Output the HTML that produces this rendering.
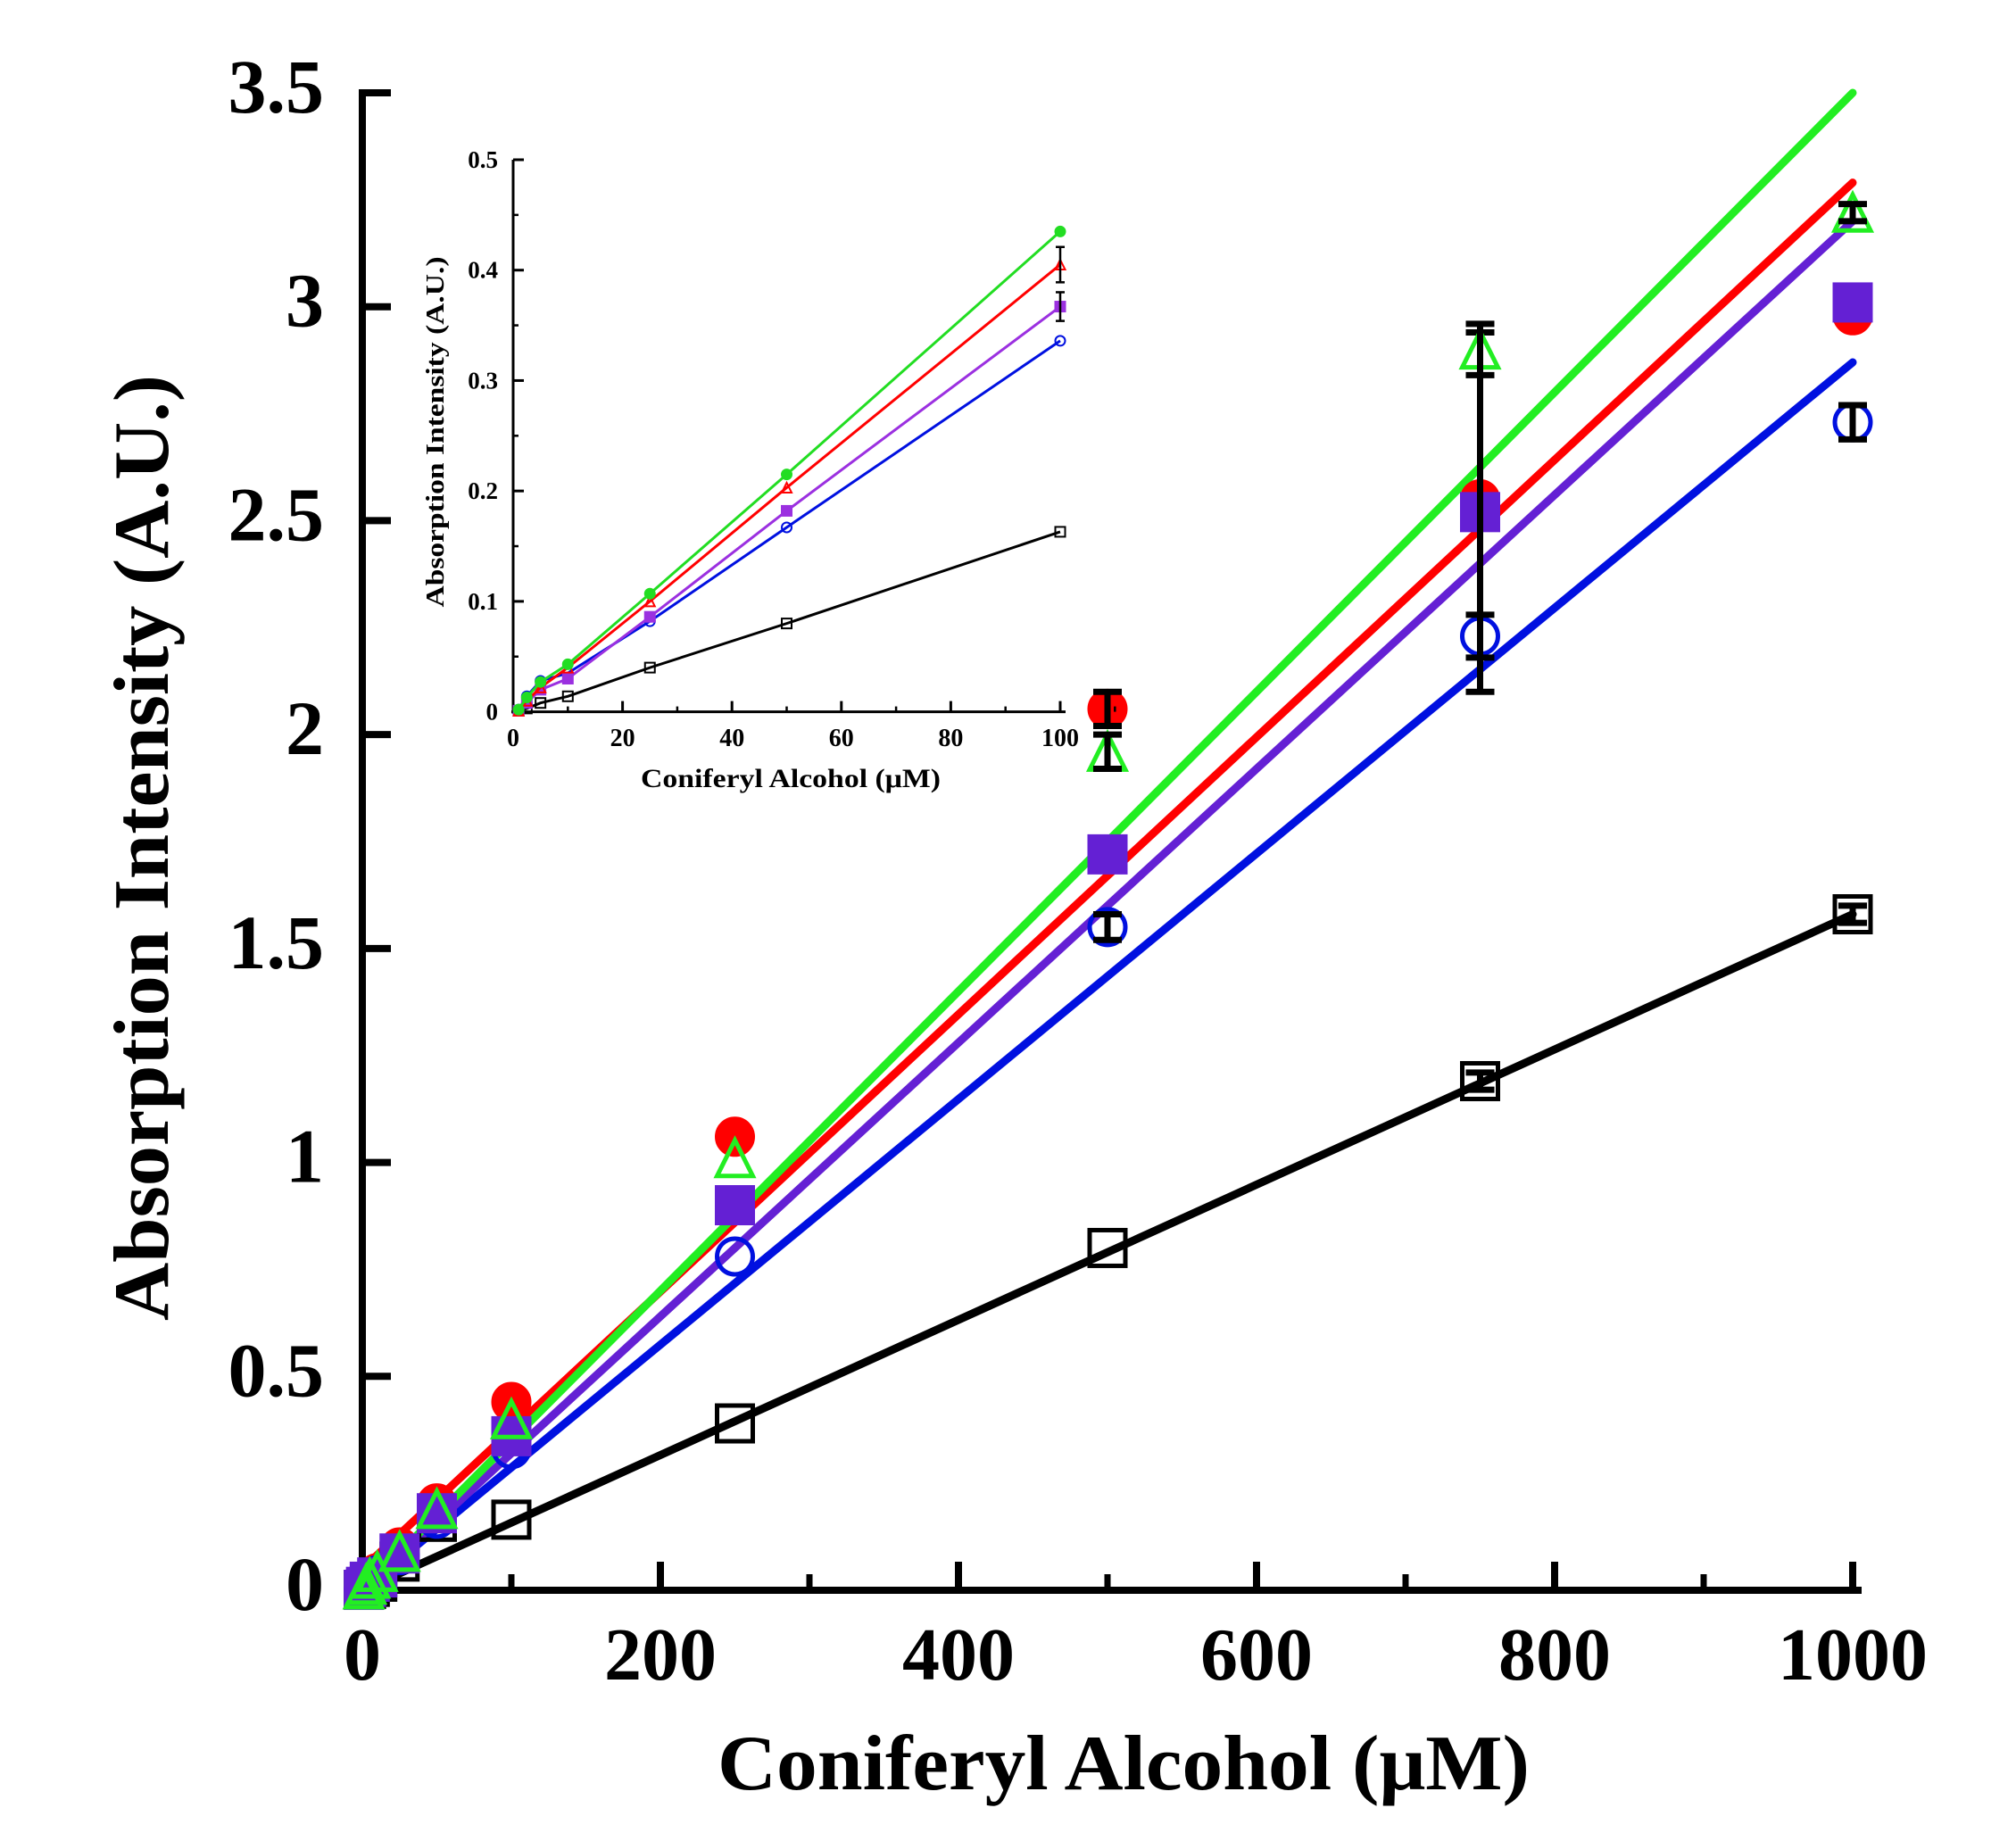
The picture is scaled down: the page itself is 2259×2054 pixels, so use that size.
<!DOCTYPE html>
<html><head><meta charset="utf-8"><style>
html,body{margin:0;padding:0;background:#fff;}
svg{display:block;}
text{font-family:"Liberation Serif",serif;font-weight:bold;fill:#000;}
</style></head><body>
<svg id="chart" width="2259" height="2054" viewBox="0 0 2259 2054" xmlns="http://www.w3.org/2000/svg"></svg>
<script>
// ---- main chart data ----
const concMain = [1, 2.5, 5, 10, 25, 50, 100, 250, 500, 750, 1000];
const redMain    = [0.002, 0.01, 0.022, 0.04, 0.10, 0.203, 0.44, 1.06, 2.06, 2.55, 2.98];
const greenMain  = [0.002, 0.013, 0.027, 0.043, 0.09, 0.19, 0.40, 1.01, 1.96, 2.90, 3.22];
const purpleMain = [0.001, 0.008, 0.02, 0.03, 0.086, 0.18, 0.36, 0.90, 1.72, 2.52, 3.01];
const blueMain   = [0.002, 0.014, 0.028, 0.035, 0.082, 0.167, 0.33, 0.78, 1.55, 2.23, 2.73];
const blackMain  = [0.001, 0.003, 0.008, 0.02, 0.067, 0.16, 0.165, 0.39, 0.80, 1.19, 1.58];
const greenErr   = [0, 0, 0, 0, 0, 0, 0, 0, 0.04, 0.06, 0.02];
const redErr     = [0, 0, 0, 0, 0, 0, 0, 0, 0.04, 0, 0];
const purpleErr  = [0, 0, 0, 0, 0, 0, 0, 0, 0, 0.42, 0];
const blueErr    = [0, 0, 0, 0, 0, 0, 0, 0, 0.03, 0.05, 0.04];
const blackErr   = [0, 0, 0, 0, 0, 0, 0, 0, 0, 0.02, 0.02];
const fitEnd     = [3.29, 3.50, 3.20, 2.87, 1.58]; // red, green, purple, blue, black at 1000
const fitStart   = [0.05, 0.0, 0.0, 0.0, 0.0];
const xTicksMain = [0, 200, 400, 600, 800, 1000];
const xMinorMain = [100, 300, 500, 700, 900];
const yTicksMain = [0, 0.5, 1, 1.5, 2, 2.5, 3, 3.5];
const yTickLabelsMain = ["0", "0.5", "1", "1.5", "2", "2.5", "3", "3.5"];
// ---- inset data ----
const concInset = [1, 2.5, 5, 10, 25, 50, 100];
const greenInset  = [0.002, 0.013, 0.027, 0.043, 0.107, 0.215, 0.435];
const redInset    = [0.001, 0.01, 0.022, 0.04, 0.10, 0.203, 0.405];
const purpleInset = [0.001, 0.008, 0.02, 0.03, 0.086, 0.182, 0.367];
const blueInset   = [0.002, 0.014, 0.028, 0.035, 0.082, 0.167, 0.336];
const blackInset  = [0.001, 0.003, 0.008, 0.014, 0.04, 0.08, 0.163];
const redInsetErr    = [0, 0, 0, 0, 0, 0, 0.016];
const purpleInsetErr = [0, 0, 0, 0, 0, 0, 0.013];
const xTicksInset = [0, 20, 40, 60, 80, 100];
const yTicksInset = [0, 0.1, 0.2, 0.3, 0.4, 0.5];
const yTickLabelsInset = ["0", "0.1", "0.2", "0.3", "0.4", "0.5"];

const NS = "http://www.w3.org/2000/svg";
const svg = document.getElementById('chart');
function el(tag, attrs, parent) {
  const e = document.createElementNS(NS, tag);
  for (const k in attrs) e.setAttribute(k, attrs[k]);
  (parent || svg).appendChild(e);
  return e;
}
const mx = v => 406 + v * (2076 - 406) / 1000;
const my = v => 1782 - v * (1782 - 104) / 3.5;
const ix = v => 575 + v * (1188 - 575) / 100;
const iy = v => 797.6 - v * (797.6 - 179) / 0.5;

const gMainAxes = el('g', {});


const yAxis = el('line', {x1: mx(0), y1: my(3.5) - 4, x2: mx(0), y2: my(0) + 4, stroke: '#000', 'stroke-width': 8}, gMainAxes);


const xAxis = el('line', {x1: mx(0) - 4, y1: my(0), x2: mx(1000) + 10, y2: my(0), stroke: '#000', 'stroke-width': 8}, gMainAxes);


xTicksMain.forEach((t, i) => {
  el('line', {x1: mx(t), y1: my(0), x2: mx(t), y2: my(0) - 32, stroke: '#000', 'stroke-width': 8}, gMainAxes);
  const tx = el('text', {x: mx(t), y: 1882, 'font-size': 84, 'text-anchor': 'middle'}, gMainAxes);
  tx.textContent = String(t);
  
  
});
xMinorMain.forEach(t => {
  el('line', {x1: mx(t), y1: my(0), x2: mx(t), y2: my(0) - 18, stroke: '#000', 'stroke-width': 7}, gMainAxes);
});
yTicksMain.forEach((t, i) => {
  el('line', {x1: mx(0), y1: my(t), x2: mx(0) + 32, y2: my(t), stroke: '#000', 'stroke-width': 8}, gMainAxes);
  const ty = el('text', {x: 363, y: my(t) + 22, 'font-size': 86, 'text-anchor': 'end'}, gMainAxes);
  ty.textContent = yTickLabelsMain[i];
  
  
});
const yTitle = el('text', {x: 0, y: 0, 'font-size': 88, 'text-anchor': 'middle', transform: 'translate(188,950) rotate(-90)', textLength: 1060, lengthAdjust: 'spacingAndGlyphs'});
yTitle.textContent = 'Absorption Intensity (A.U.)';


const xTitle = el('text', {x: 1259, y: 2005, 'font-size': 88, 'text-anchor': 'middle', textLength: 910, lengthAdjust: 'spacingAndGlyphs'});
xTitle.textContent = 'Coniferyl Alcohol (\u03bcM)';



const mainColors = ['#ff0000', '#22ee22', '#6420d4', '#0010e0', '#000000'];
const fitNames = ['red-fit-line', 'green-fit-line', 'purple-fit-line', 'blue-fit-line', 'black-fit-line'];
const fitOrder = [4, 3, 2, 0, 1];
fitOrder.forEach(i => {
  const ln = el('line', {x1: mx(0), y1: my(fitStart[i]), x2: mx(1000), y2: my(fitEnd[i]), stroke: mainColors[i], 'stroke-width': 9, 'stroke-linecap': 'round'});
  
  
});

function errBar(g, x, y, e, sx, sy, cap, w) {
  if (!e) return;
  el('line', {x1: sx(x), y1: sy(y - e), x2: sx(x), y2: sy(y + e), stroke: '#000', 'stroke-width': w}, g);
  el('line', {x1: sx(x) - cap, y1: sy(y + e), x2: sx(x) + cap, y2: sy(y + e), stroke: '#000', 'stroke-width': w}, g);
  el('line', {x1: sx(x) - cap, y1: sy(y - e), x2: sx(x) + cap, y2: sy(y - e), stroke: '#000', 'stroke-width': w}, g);
}
function marker(g, shape, cx, cy, s, color, filled, sw) {
  const fill = filled ? color : 'none';
  if (shape === 'circle') el('circle', {cx, cy, r: s / 2, fill, stroke: color, 'stroke-width': sw}, g);
  else if (shape === 'square') el('rect', {x: cx - s / 2, y: cy - s / 2, width: s, height: s, fill, stroke: color, 'stroke-width': sw}, g);
  else el('polygon', {points: `${cx},${cy - s / 2} ${cx + s / 2},${cy + s / 2} ${cx - s / 2},${cy + s / 2}`, fill, stroke: color, 'stroke-width': sw}, g);
}
const mainSeries = [
  {name: 'black-square-markers', vals: blackMain, err: blackErr, shape: 'square', color: '#000', filled: false},
  {name: 'red-circle-markers', vals: redMain, err: redErr, shape: 'circle', color: '#ff0000', filled: true},
  {name: 'blue-circle-markers', vals: blueMain, err: blueErr, shape: 'circle', color: '#0010e0', filled: false},
  {name: 'purple-square-markers', vals: purpleMain, err: purpleErr, shape: 'square', color: '#6420d4', filled: true},
  {name: 'green-triangle-markers', vals: greenMain, err: greenErr, shape: 'triangle', color: '#22ee22', filled: false}
];
mainSeries.forEach(s => {
  const g = el('g', {});
  
  
  concMain.forEach((c, i) => {
    marker(g, s.shape, mx(c), my(s.vals[i]), 40, s.color, s.filled, 5);
    errBar(g, c, s.vals[i], s.err[i], mx, my, 16, 7);
  });
});

const gi = el('g', {});


el('line', {x1: ix(0), y1: iy(0.5), x2: ix(0), y2: iy(0) + 2, stroke: '#000', 'stroke-width': 3}, gi);
el('line', {x1: ix(0) - 2, y1: iy(0), x2: ix(100) + 6, y2: iy(0), stroke: '#000', 'stroke-width': 3}, gi);
xTicksInset.forEach(t => {
  el('line', {x1: ix(t), y1: iy(0), x2: ix(t), y2: iy(0) - 12, stroke: '#000', 'stroke-width': 3}, gi);
  el('line', {x1: ix(t + 10), y1: iy(0), x2: ix(t + 10), y2: iy(0) - 6, stroke: '#000', 'stroke-width': 2.5}, gi);
  const tx = el('text', {x: ix(t), y: 836, 'font-size': 28, 'text-anchor': 'middle'}, gi);
  tx.textContent = String(t);
  
  
});
yTicksInset.forEach((t, i) => {
  el('line', {x1: ix(0), y1: iy(t), x2: ix(0) + 12, y2: iy(t), stroke: '#000', 'stroke-width': 3}, gi);
  if (t < 0.5) el('line', {x1: ix(0), y1: iy(t + 0.05), x2: ix(0) + 6, y2: iy(t + 0.05), stroke: '#000', 'stroke-width': 2.5}, gi);
  const ty = el('text', {x: 558, y: iy(t) + 9, 'font-size': 27, 'text-anchor': 'end'}, gi);
  ty.textContent = yTickLabelsInset[i];
  
  
});
const iyt = el('text', {x: 0, y: 0, 'font-size': 28, 'text-anchor': 'middle', transform: 'translate(497,484) rotate(-90)', textLength: 393, lengthAdjust: 'spacingAndGlyphs'}, gi);
iyt.textContent = 'Absorption Intensity (A.U.)';


const ixt = el('text', {x: 886, y: 882, 'font-size': 30, 'text-anchor': 'middle', textLength: 336, lengthAdjust: 'spacingAndGlyphs'}, gi);
ixt.textContent = 'Coniferyl Alcohol (\u03bcM)';



const insetSeries = [
  {name: 'inset-black-series', vals: blackInset, err: null, shape: 'square', color: '#000', filled: false},
  {name: 'inset-blue-series', vals: blueInset, err: null, shape: 'circle', color: '#0010e0', filled: false},
  {name: 'inset-purple-series', vals: purpleInset, err: purpleInsetErr, shape: 'square', color: '#9b30e0', filled: true},
  {name: 'inset-red-series', vals: redInset, err: redInsetErr, shape: 'triangle', color: '#ff0000', filled: false},
  {name: 'inset-green-series', vals: greenInset, err: null, shape: 'circle', color: '#22dd22', filled: true}
];
insetSeries.forEach(s => {
  const g = el('g', {}, gi);
  
  
  const pts = concInset.map((c, i) => ix(c) + ',' + iy(s.vals[i])).join(' ');
  el('polyline', {points: pts, fill: 'none', stroke: s.color, 'stroke-width': 3}, g);
  concInset.forEach((c, i) => {
    marker(g, s.shape, ix(c), iy(s.vals[i]), 11, s.color, s.filled, 2);
    if (s.err) errBar(g, c, s.vals[i], s.err[i], ix, iy, 5, 2.5);
  });
});
</script>
</body></html>
